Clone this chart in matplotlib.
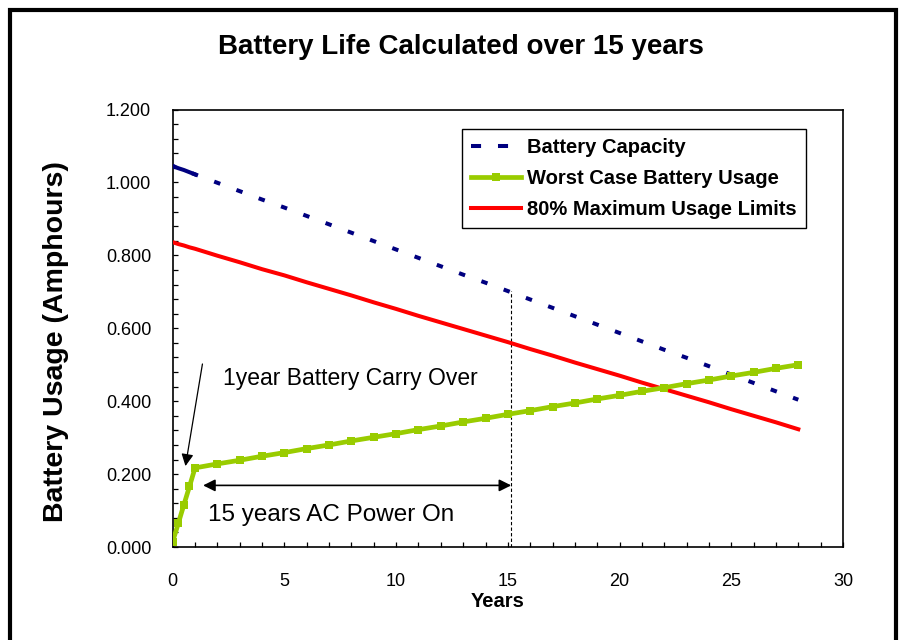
import matplotlib
matplotlib.use("Agg")
import matplotlib.pyplot as plt
from matplotlib.lines import Line2D
from matplotlib.patches import Rectangle
from matplotlib.ticker import MultipleLocator, FormatStrFormatter

plt.rcParams["font.family"] = ["Liberation Sans", "DejaVu Sans"]

# ## Data
# Monthly-ish points over the first year, then yearly.

years = [0, 0.25, 0.5, 0.75, 1, 2, 3, 4, 5, 6, 7, 8, 9, 10, 11, 12, 13, 14,
         15, 16, 17, 18, 19, 20, 21, 22, 23, 24, 25, 26, 27, 28]

capacity = [1.045, 1.039, 1.034, 1.028, 1.022, 0.999, 0.976, 0.953, 0.931,
            0.908, 0.885, 0.862, 0.839, 0.816, 0.793, 0.770, 0.747, 0.725,
            0.702, 0.679, 0.656, 0.633, 0.610, 0.587, 0.564, 0.541, 0.519,
            0.496, 0.473, 0.450, 0.427, 0.404]

worst_usage = [0.015, 0.065, 0.116, 0.166, 0.217, 0.228, 0.238, 0.249, 0.259,
               0.270, 0.280, 0.291, 0.301, 0.311, 0.322, 0.332, 0.343, 0.353,
               0.364, 0.374, 0.385, 0.395, 0.406, 0.416, 0.427, 0.437, 0.448,
               0.458, 0.469, 0.479, 0.490, 0.500]

limit_80 = [0.836, 0.831, 0.827, 0.822, 0.818, 0.799, 0.781, 0.762, 0.745,
            0.726, 0.708, 0.690, 0.671, 0.653, 0.634, 0.616, 0.598, 0.580,
            0.562, 0.543, 0.525, 0.506, 0.488, 0.470, 0.451, 0.433, 0.415,
            0.397, 0.378, 0.360, 0.342, 0.323]

series_labels = ["Battery Capacity", "Worst Case Battery Usage",
                 "80% Maximum Usage Limits"]

carry_over_label = "1year Battery Carry Over"
ac_power_label = "15 years AC Power On"
ac_power_end = 15.15

NAVY = "#000080"
LIME = "#99CC00"
RED = "#FF0000"

# ## Figure and axes

fig = plt.figure(figsize=(9.01, 6.40), dpi=100)
ax = fig.add_axes([0.1917, 0.1453, 0.7439, 0.6836])

# capacity: solid over the first year, then one short dash per year
ax.plot(years, capacity, color=NAVY, linewidth=2.9,
        linestyle=(0.8, (1.6, 4.3)), dash_capstyle="butt", zorder=3)
ax.plot(years[:5], capacity[:5], color=NAVY, linewidth=2.9, zorder=3)

ax.plot(years, worst_usage, color=LIME, linewidth=3.4, marker="s",
        markersize=5.5, markeredgewidth=0, zorder=4)

ax.plot(years, limit_80, color=RED, linewidth=2.9, zorder=3)

ax.set_xlim(0, 30)
ax.set_ylim(0, 1.2)
ax.xaxis.set_major_locator(MultipleLocator(5))
ax.xaxis.set_minor_locator(MultipleLocator(1))
ax.yaxis.set_major_locator(MultipleLocator(0.2))
ax.yaxis.set_minor_locator(MultipleLocator(0.04))
ax.yaxis.set_major_formatter(FormatStrFormatter("%.3f"))

for side in ax.spines.values():
    side.set_linewidth(1.2)
    side.set_color("black")

ax.tick_params(which="both", direction="in", length=3.3, width=0.9,
               top=False, right=False)
ax.tick_params(axis="x", which="major", labelsize=13, pad=18.5)
ax.tick_params(axis="y", which="major", labelsize=13, pad=15.5)

# ## Annotations

ax.plot([ac_power_end, ac_power_end], [0, 0.702], color="black",
        linewidth=0.8, linestyle=(0, (3, 2)), zorder=2)

ax.annotate("", xy=(ac_power_end, 0.169), xytext=(1.36, 0.169),
            arrowprops=dict(arrowstyle="<|-|>", color="black", lw=1.2,
                            mutation_scale=18, shrinkA=0, shrinkB=0))
ax.annotate("", xy=(0.57, 0.222), xytext=(1.33, 0.502),
            arrowprops=dict(arrowstyle="-|>", color="black", lw=0.9,
                            mutation_scale=18, shrinkA=0, shrinkB=0))

ax.text(2.25, 0.4635, carry_over_label, fontsize=16.5, ha="left",
        va="center")
ax.text(1.58, 0.088, ac_power_label, fontsize=17.5, ha="left", va="center")

# ## Titles

fig.text(0.5117, 0.9266, "Battery Life Calculated over 15 years",
         fontsize=20, fontweight="bold", ha="center", va="center")
fig.text(0.0622, 0.4656, "Battery Usage (Amphours)", fontsize=20.5,
         fontweight="bold", rotation=90, ha="center", va="center")
fig.text(0.5527, 0.060, "Years", fontsize=14.5, fontweight="bold",
         ha="center", va="center")

# ## Legend

handles = [
    Line2D([], [], color=NAVY, linewidth=2.9, linestyle=(0, (2.5, 4.2)),
           dash_capstyle="butt"),
    Line2D([], [], color=LIME, linewidth=3.4, marker="s", markersize=5.5,
           markeredgewidth=0),
    Line2D([], [], color=RED, linewidth=2.9),
]
leg = ax.legend(handles, series_labels, loc="upper left",
                bbox_to_anchor=(462 / 901, 1 - 129 / 640),
                bbox_transform=fig.transFigure, borderaxespad=0,
                prop=dict(size=14.5, weight="bold"), handlelength=2.5,
                handletextpad=0.3, borderpad=0.45, labelspacing=0.6,
                numpoints=1, fancybox=False, framealpha=1)
leg.get_frame().set_edgecolor("black")
leg.get_frame().set_linewidth(1.0)

# ## Outer chart border

fig.patches.append(Rectangle((10 / 901, -0.01), 886 / 901, 1 - 10 / 640 + 0.01,
                             transform=fig.transFigure, fill=False,
                             edgecolor="black", linewidth=3))

fig.savefig("out.png", dpi=100)
